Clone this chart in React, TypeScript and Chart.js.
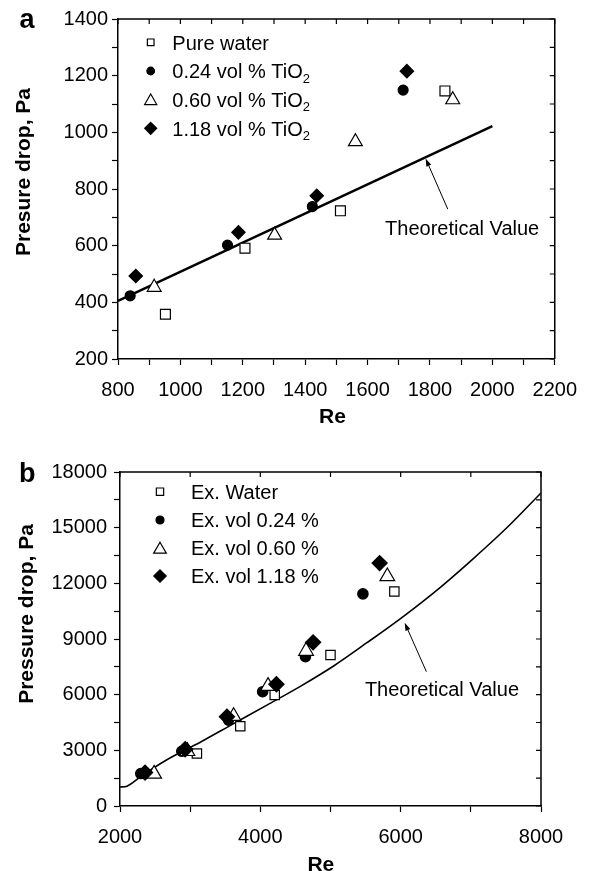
import React, { useEffect, useRef } from 'react';
import { Chart, registerables } from 'chart.js';
Chart.register(...registerables);

const FONT = "'Liberation Sans', Arial, Helvetica, sans-serif";
Chart.defaults.font.family = FONT;
Chart.defaults.color = '#000';

// ---------- Panel a ----------
const xTickLabelsA = [800, 1000, 1200, 1400, 1600, 1800, 2000, 2200];
const yTickLabelsA = [200, 400, 600, 800, 1000, 1200, 1400];

const reWaterA = [952, 1207, 1513, 1848];
const pWaterA = [358, 591, 723, 1146];
const re024A = [839, 1151, 1423, 1714];
const p024A = [423, 602, 738, 1149];
const re060A = [916, 1302, 1561, 1873];
const p060A = [453, 637, 967, 1115];
const re118A = [857, 1186, 1437, 1726];
const p118A = [493, 647, 776, 1216];
const reTheoryA = [800, 2000];
const pTheoryA = [405, 1022];

const legendLabelsA = ['Pure water', '0.24 vol % TiO', '0.60 vol % TiO', '1.18 vol % TiO'];
const legendSubsA = ['', '2', '2', '2'];

// ---------- Panel b ----------
const xTickLabelsB = [2000, 4000, 6000, 8000];
const yTickLabelsB = [0, 3000, 6000, 9000, 12000, 15000, 18000];

const reWaterB = [3096, 3714, 4205, 5000, 5910];
const pWaterB = [2830, 4300, 5980, 8140, 11560];
const re024B = [2296, 2880, 3547, 4033, 4643, 5462];
const p024B = [1750, 2950, 4630, 6160, 8050, 11430];
const re060B = [2486, 2960, 3619, 4110, 4652, 5810];
const p060B = [1730, 2950, 4840, 6460, 8350, 12370];
const re118B = [2357, 2929, 3524, 4229, 4752, 5700];
const p118B = [1800, 3060, 4810, 6560, 8820, 13090];
const reTheoryB = [2000, 2100, 2300, 2650, 3150, 3600, 4100, 4570, 5050, 5520, 6050, 6570, 7020, 7520, 8000];
const pTheoryB = [1020, 1070, 1600, 2450, 3450, 4400, 5450, 6450, 7560, 8800, 10250, 11800, 13280, 15020, 16870];

const legendLabelsB = ['Ex. Water', 'Ex. vol 0.24 %', 'Ex. vol 0.60 %', 'Ex. vol 1.18 %'];
const legendSubsB = ['', '', '', ''];

const annotationText = 'Theoretical Value';

type Style = 'rect' | 'circle' | 'triangle' | 'rectRot';

function pts(xs: number[], ys: number[]) {
  return xs.map((x, i) => ({ x, y: ys[i] }));
}

function drawMarker(ctx: CanvasRenderingContext2D, style: Style, x: number, y: number, r: number, filled: boolean) {
  ctx.beginPath();
  if (style === 'rect') {
    const s = r * Math.SQRT1_2;
    ctx.rect(x - s, y - s, 2 * s, 2 * s);
  } else if (style === 'circle') {
    ctx.arc(x, y, r, 0, Math.PI * 2);
  } else if (style === 'triangle') {
    const cy = y + r * 0.25;
    ctx.moveTo(x, cy - r);
    ctx.lineTo(x + r * Math.sin(Math.PI / 3), cy + r / 2);
    ctx.lineTo(x - r * Math.sin(Math.PI / 3), cy + r / 2);
    ctx.closePath();
  } else {
    ctx.moveTo(x, y - r);
    ctx.lineTo(x + r, y);
    ctx.lineTo(x, y + r);
    ctx.lineTo(x - r, y);
    ctx.closePath();
  }
  ctx.fillStyle = filled ? '#000' : '#fff';
  ctx.fill();
  ctx.lineWidth = 1.2;
  ctx.strokeStyle = '#000';
  ctx.stroke();
}

interface SeriesDef { xs: number[]; ys: number[]; style: Style; filled: boolean; r: number; order: number; }
interface LegendDef { text: string; sub: string; style: Style; filled: boolean; r: number; }
interface PanelDef {
  width: number; height: number; top: number;
  padding: { left: number; top: number; right: number; bottom: number };
  yWidth: number; xHeight: number; yTickPad: number;
  xMin: number; xMax: number; xStep: number; xLabels: number[];
  yMin: number; yMax: number; yStep: number; yLabels: number[];
  series: SeriesDef[];
  theoryX: number[]; theoryY: number[]; theoryWidth: number; monotone: boolean;
  letter: string; letterPos: [number, number];
  yTitle: string; yTitlePos: [number, number];
  xTitle: string; xTitlePos: [number, number];
  legendMarkerX: number; legendTextX: number; legendRows: number[]; legend: LegendDef[];
  arrowFrom: [number, number]; arrowTo: [number, number]; annPos: [number, number];
}

function makeDeco(p: PanelDef) {
  return {
    id: 'deco',
    afterDraw(chart: any) {
      const ctx: CanvasRenderingContext2D = chart.ctx;
      const { left, right, top, bottom } = chart.chartArea;
      const xs = chart.scales.x;
      const ys = chart.scales.y;
      ctx.save();
      ctx.strokeStyle = '#000';
      ctx.fillStyle = '#000';
      ctx.lineWidth = 1.5;
      ctx.beginPath();
      ctx.moveTo(left, top);
      ctx.lineTo(right, top);
      ctx.lineTo(right, bottom);
      ctx.stroke();
      ctx.lineWidth = 1.2;
      ctx.beginPath();
      xs.ticks.forEach((t: any) => {
        const px = xs.getPixelForValue(t.value);
        ctx.moveTo(px, top);
        ctx.lineTo(px, top + 5);
      });
      ys.ticks.forEach((t: any) => {
        const py = ys.getPixelForValue(t.value);
        ctx.moveTo(right, py);
        ctx.lineTo(right - 5, py);
      });
      ctx.stroke();

      // panel letter
      ctx.font = `bold 27px ${FONT}`;
      ctx.textAlign = 'left';
      ctx.textBaseline = 'alphabetic';
      ctx.fillText(p.letter, p.letterPos[0], p.letterPos[1]);

      // axis titles
      ctx.font = `bold 21px ${FONT}`;
      ctx.textAlign = 'center';
      ctx.fillText(p.xTitle, p.xTitlePos[0], p.xTitlePos[1]);
      ctx.save();
      ctx.translate(p.yTitlePos[0], p.yTitlePos[1]);
      ctx.rotate(-Math.PI / 2);
      ctx.fillText(p.yTitle, 0, 0);
      ctx.restore();

      // legend
      p.legend.forEach((item, i) => {
        const y = p.legendRows[i];
        drawMarker(ctx, item.style, p.legendMarkerX, y, item.r, item.filled);
        ctx.fillStyle = '#000';
        ctx.font = `20px ${FONT}`;
        ctx.textAlign = 'left';
        ctx.fillText(item.text, p.legendTextX, y + 7.2);
        if (item.sub) {
          const w = ctx.measureText(item.text).width;
          ctx.font = `13px ${FONT}`;
          ctx.fillText(item.sub, p.legendTextX + w, y + 11.5);
        }
      });

      // arrow
      const fx = xs.getPixelForValue(p.arrowFrom[0]);
      const fy = ys.getPixelForValue(p.arrowFrom[1]);
      const tx = xs.getPixelForValue(p.arrowTo[0]);
      const ty = ys.getPixelForValue(p.arrowTo[1]);
      const ang = Math.atan2(ty - fy, tx - fx);
      const hl = 8, hw = 2.6;
      const bx = tx - Math.cos(ang) * hl;
      const by = ty - Math.sin(ang) * hl;
      ctx.lineWidth = 1;
      ctx.beginPath();
      ctx.moveTo(fx, fy);
      ctx.lineTo(bx, by);
      ctx.stroke();
      ctx.beginPath();
      ctx.moveTo(tx, ty);
      ctx.lineTo(bx + Math.sin(ang) * hw, by - Math.cos(ang) * hw);
      ctx.lineTo(bx - Math.sin(ang) * hw, by + Math.cos(ang) * hw);
      ctx.closePath();
      ctx.fillStyle = '#000';
      ctx.fill();

      // annotation text
      ctx.font = `20px ${FONT}`;
      ctx.textAlign = 'left';
      ctx.fillText(annotationText, xs.getPixelForValue(p.annPos[0]), ys.getPixelForValue(p.annPos[1]) + 7.2);
      ctx.restore();
    },
  };
}

function buildConfig(p: PanelDef): any {
  const datasets: any[] = p.series.map((s) => ({
    data: pts(s.xs, s.ys),
    pointStyle: s.style,
    pointRadius: s.r,
    pointBackgroundColor: s.filled ? '#000' : '#fff',
    pointBorderColor: '#000',
    pointBorderWidth: 1.2,
    order: s.order,
  }));
  datasets.push({
    data: pts(p.theoryX, p.theoryY),
    showLine: true,
    pointRadius: 0,
    borderColor: '#000',
    borderWidth: p.theoryWidth,
    fill: false,
    cubicInterpolationMode: p.monotone ? 'monotone' : 'default',
    order: 10,
  });
  const tickFont = { size: 20, family: FONT };
  return {
    type: 'scatter',
    data: { datasets },
    options: {
      animation: false,
      responsive: false,
      events: [],
      layout: { padding: p.padding },
      plugins: { legend: { display: false }, tooltip: { enabled: false }, title: { display: false } },
      scales: {
        x: {
          type: 'linear',
          min: p.xMin,
          max: p.xMax,
          afterFit: (s: any) => { s.height = p.xHeight; },
          border: { display: true, color: '#000', width: 1.5 },
          grid: { display: true, drawOnChartArea: false, drawTicks: true, tickLength: 6, tickColor: '#000', tickWidth: 1.2 },
          ticks: {
            stepSize: p.xStep, autoSkip: false, maxRotation: 0, minRotation: 0, padding: 13, color: '#000', font: tickFont,
            callback: (v: number) => (p.xLabels.includes(v) ? String(v) : ''),
          },
        },
        y: {
          type: 'linear',
          min: p.yMin,
          max: p.yMax,
          afterFit: (s: any) => { s.width = p.yWidth; },
          border: { display: true, color: '#000', width: 1.5 },
          grid: { display: true, drawOnChartArea: false, drawTicks: true, tickLength: 6, tickColor: '#000', tickWidth: 1.2 },
          ticks: {
            stepSize: p.yStep, autoSkip: false, padding: p.yTickPad, color: '#000', font: tickFont,
            callback: (v: number) => (p.yLabels.includes(v) ? String(v) : ''),
          },
        },
      },
    },
    plugins: [makeDeco(p)],
  };
}

const panelA: PanelDef = {
  width: 590, height: 440, top: 0,
  padding: { left: 0, top: 19, right: 32, bottom: 31 },
  yWidth: 118, xHeight: 50, yTickPad: 4,
  xMin: 800, xMax: 2200, xStep: 100, xLabels: xTickLabelsA,
  yMin: 200, yMax: 1400, yStep: 100, yLabels: yTickLabelsA,
  series: [
    { xs: reWaterA, ys: pWaterA, style: 'rect', filled: false, r: 7, order: 4 },
    { xs: re024A, ys: p024A, style: 'circle', filled: true, r: 5, order: 3 },
    { xs: re060A, ys: p060A, style: 'triangle', filled: false, r: 8, order: 2 },
    { xs: re118A, ys: p118A, style: 'rectRot', filled: true, r: 6.7, order: 1 },
  ],
  theoryX: reTheoryA, theoryY: pTheoryA, theoryWidth: 2.5, monotone: false,
  letter: 'a', letterPos: [19.5, 28.3],
  yTitle: 'Presure drop, Pa', yTitlePos: [29.6, 172],
  xTitle: 'Re', xTitlePos: [332.5, 422.5],
  legendMarkerX: 150.7, legendTextX: 172.3, legendRows: [42.3, 71, 99.3, 128.3],
  legend: [
    { text: legendLabelsA[0], sub: legendSubsA[0], style: 'rect', filled: false, r: 4.7 },
    { text: legendLabelsA[1], sub: legendSubsA[1], style: 'circle', filled: true, r: 3.8 },
    { text: legendLabelsA[2], sub: legendSubsA[2], style: 'triangle', filled: false, r: 7 },
    { text: legendLabelsA[3], sub: legendSubsA[3], style: 'rectRot', filled: true, r: 6 },
  ],
  arrowFrom: [1857, 729], arrowTo: [1786, 908], annPos: [1656, 663],
};

const panelB: PanelDef = {
  width: 590, height: 431, top: 440,
  padding: { left: 0, top: 32, right: 49, bottom: 15 },
  yWidth: 120, xHeight: 50, yTickPad: 7,
  xMin: 2000, xMax: 8000, xStep: 1000, xLabels: xTickLabelsB,
  yMin: 0, yMax: 18000, yStep: 1500, yLabels: yTickLabelsB,
  series: [
    { xs: reWaterB, ys: pWaterB, style: 'rect', filled: false, r: 6.6, order: 4 },
    { xs: re024B, ys: p024B, style: 'circle', filled: true, r: 5.2, order: 3 },
    { xs: re060B, ys: p060B, style: 'triangle', filled: false, r: 8.5, order: 2 },
    { xs: re118B, ys: p118B, style: 'rectRot', filled: true, r: 7.6, order: 1 },
  ],
  theoryX: reTheoryB, theoryY: pTheoryB, theoryWidth: 1.6, monotone: true,
  letter: 'b', letterPos: [19, 41.7],
  yTitle: 'Pressure drop, Pa', yTitlePos: [32.5, 174],
  xTitle: 'Re', xTitlePos: [320.8, 430.8],
  legendMarkerX: 160, legendTextX: 191, legendRows: [51.7, 80, 107.7, 136],
  legend: [
    { text: legendLabelsB[0], sub: legendSubsB[0], style: 'rect', filled: false, r: 5.2 },
    { text: legendLabelsB[1], sub: legendSubsB[1], style: 'circle', filled: true, r: 4 },
    { text: legendLabelsB[2], sub: legendSubsB[2], style: 'triangle', filled: false, r: 7.3 },
    { text: legendLabelsB[3], sub: legendSubsB[3], style: 'rectRot', filled: true, r: 6.2 },
  ],
  arrowFrom: [6367, 7236], arrowTo: [6057, 9882], annPos: [5490, 6340],
};

function PanelChart({ p }: { p: PanelDef }) {
  const ref = useRef<HTMLCanvasElement | null>(null);
  useEffect(() => {
    if (!ref.current) return;
    const chart = new Chart(ref.current, buildConfig(p));
    return () => chart.destroy();
  }, [p]);
  return (
    <canvas
      ref={ref}
      width={p.width}
      height={p.height}
      style={{ position: 'absolute', left: 0, top: p.top, width: p.width, height: p.height, display: 'block' }}
    />
  );
}

export default function App() {
  return (
    <div style={{ position: 'absolute', left: 0, top: 0, width: 590, height: 871, background: '#fff' }}>
      <PanelChart p={panelA} />
      <PanelChart p={panelB} />
    </div>
  );
}
